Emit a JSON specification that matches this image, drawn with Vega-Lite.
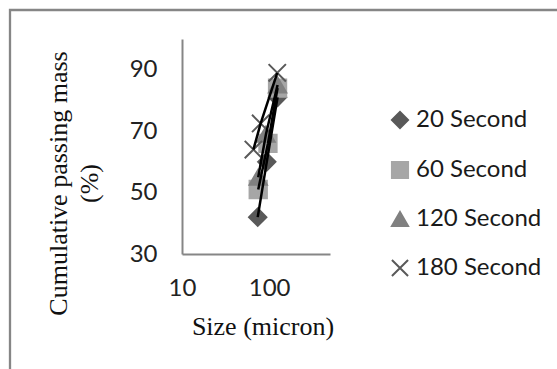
{
  "$schema": "https://vega.github.io/schema/vega-lite/v6.json",
  "width": 547,
  "height": 359,
  "autosize": {"type": "none"},
  "padding": {"left": 10, "top": 10, "right": 0, "bottom": 0},
  "background": "white",
  "config": {
    "view": {
      "stroke": "#868686",
      "strokeWidth": 2.3,
      "strokeDash": [547, 906, 359, 0],
      "strokeCap": "square"
    },
    "font": "Lato"
  },
  "data": {
    "values": [
      {"series": "20 Second", "size": 74, "passing": 42},
      {"series": "20 Second", "size": 94, "passing": 60},
      {"series": "20 Second", "size": 125, "passing": 81},
      {"series": "60 Second", "size": 75, "passing": 51},
      {"series": "60 Second", "size": 97, "passing": 66},
      {"series": "60 Second", "size": 125, "passing": 84},
      {"series": "120 Second", "size": 75, "passing": 55},
      {"series": "120 Second", "size": 92, "passing": 69},
      {"series": "120 Second", "size": 125, "passing": 85},
      {"series": "180 Second", "size": 66, "passing": 64},
      {"series": "180 Second", "size": 80, "passing": 72.5},
      {"series": "180 Second", "size": 124, "passing": 89}
    ]
  },
  "encoding": {
    "x": {
      "field": "size",
      "type": "quantitative",
      "scale": {"type": "log", "domain": [10, 500], "range": [172, 320]},
      "axis": {
        "title": "Size (micron)",
        "values": [10, 100],
        "format": "d",
        "grid": false,
        "ticks": false,
        "tickSize": 0,
        "offset": -115,
        "domainColor": "#868686",
        "domainWidth": 2,
        "labelFlush": false,
        "labelFont": "Lato",
        "labelFontSize": 24,
        "labelColor": "#222222",
        "labelPadding": 22,
        "titleFont": "Liberation Serif",
        "titleFontSize": 26,
        "titleFontWeight": "normal",
        "titleColor": "#111111",
        "titleX": 252.5,
        "titleY": 80,
        "titleAlign": "center",
        "titleBaseline": "alphabetic"
      }
    },
    "y": {
      "field": "passing",
      "type": "quantitative",
      "scale": {"domain": [30, 100], "range": [244, 29]},
      "axis": {
        "title": ["Cumulative passing mass", "(%)"],
        "values": [30, 50, 70, 90],
        "grid": false,
        "ticks": false,
        "tickSize": 0,
        "offset": -172,
        "domainColor": "#868686",
        "domainWidth": 2,
        "labelFont": "Lato",
        "labelFontSize": 24,
        "labelColor": "#222222",
        "labelPadding": 25,
        "titleFont": "Liberation Serif",
        "titleFontSize": 26,
        "titleFontWeight": "normal",
        "titleColor": "#111111",
        "titleX": -116,
        "titleY": 173,
        "titleAngle": -90,
        "titleAlign": "center",
        "titleBaseline": "alphabetic",
        "titleLineHeight": 31
      }
    }
  },
  "layer": [
    {
      "mark": {"type": "point", "filled": true, "size": 300, "strokeWidth": 2, "opacity": 1},
      "encoding": {
        "fill": {
          "field": "series",
          "type": "nominal",
          "scale": {
            "domain": ["20 Second", "60 Second", "120 Second", "180 Second"],
            "range": ["#595959", "#A6A6A6", "#808080", "#595959"]
          },
          "legend": {
            "title": null,
            "orient": "none",
            "legendX": 378,
            "legendY": 98,
            "direction": "vertical",
            "padding": 0,
            "labelFont": "Lato",
            "labelFontSize": 24,
            "labelColor": "#1a1a1a",
            "labelOffset": 4,
            "symbolSize": 260,
            "symbolStrokeWidth": 2,
            "symbolOpacity": 1,
            "rowPadding": 24
          }
        },
        "stroke": {
          "field": "series",
          "type": "nominal",
          "scale": {
            "domain": ["20 Second", "60 Second", "120 Second", "180 Second"],
            "range": ["#595959", "#A6A6A6", "#808080", "#595959"]
          }
        },
        "shape": {
          "field": "series",
          "type": "nominal",
          "scale": {
            "domain": ["20 Second", "60 Second", "120 Second", "180 Second"],
            "range": ["diamond", "square", "triangle-up", "M-1,-1L1,1M-1,1L1,-1"]
          }
        }
      }
    },
    {
      "mark": {"type": "line", "color": "black", "strokeWidth": 2.5},
      "encoding": {
        "detail": {"field": "series", "type": "nominal"}
      }
    }
  ]
}
